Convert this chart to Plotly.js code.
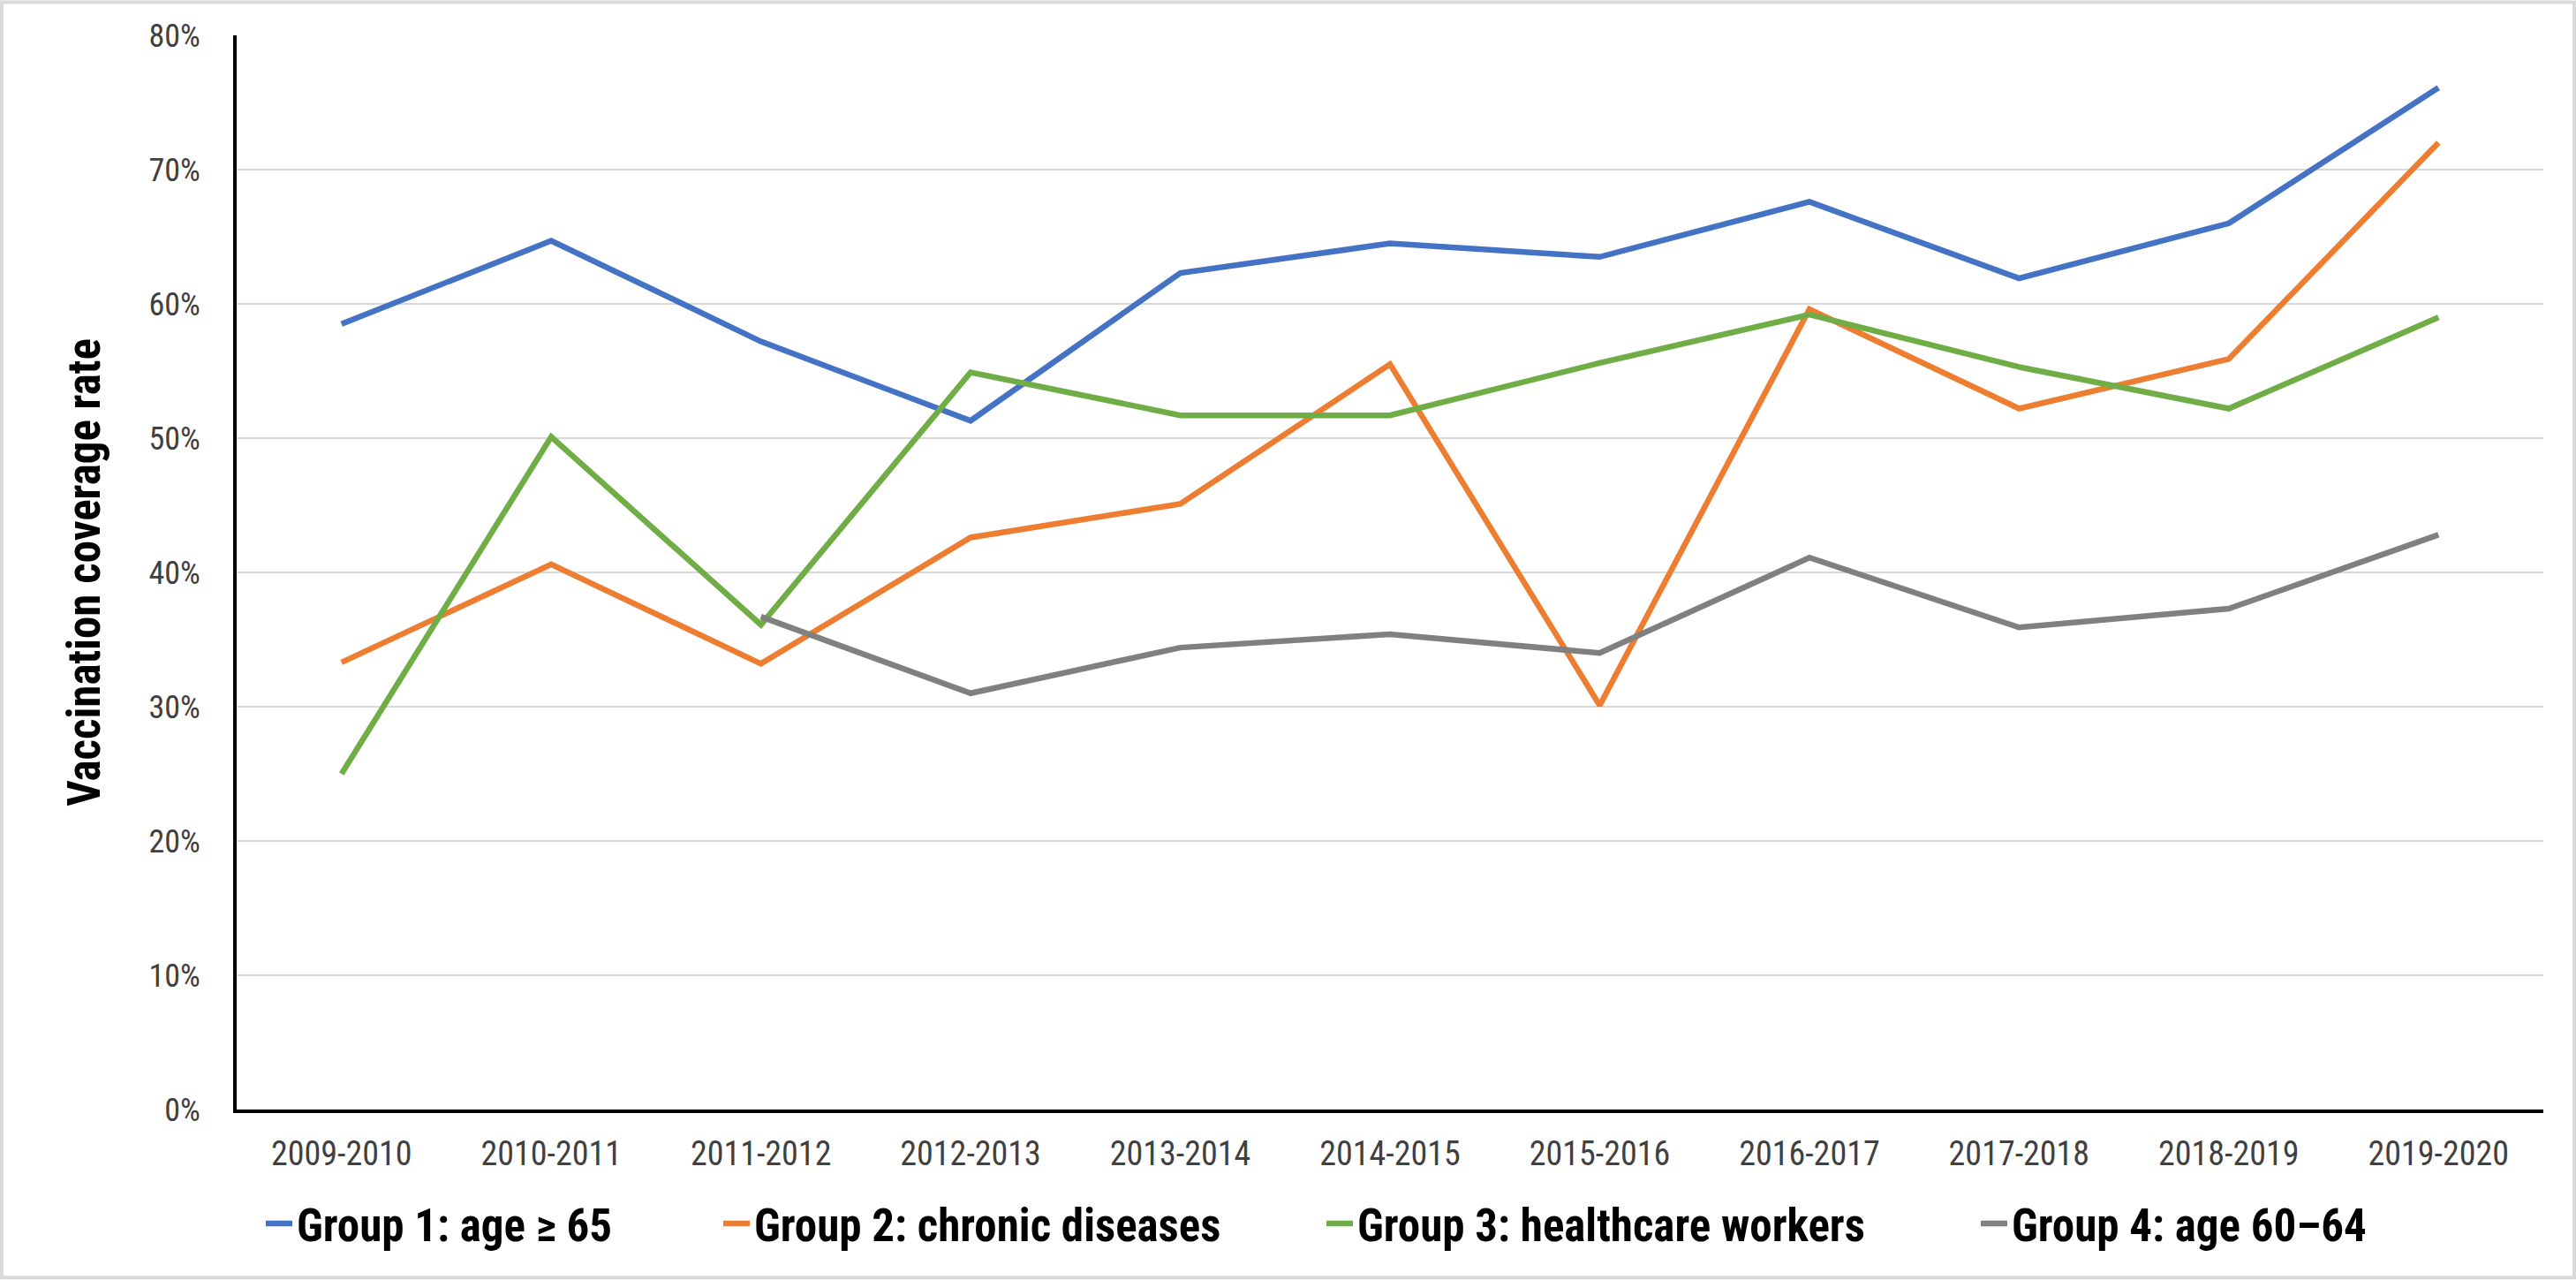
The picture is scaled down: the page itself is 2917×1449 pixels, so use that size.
<!DOCTYPE html>
<html>
<head>
<meta charset="utf-8">
<script src="https://cdn.plot.ly/plotly-3.0.1.min.js"></script>
<style>
  html, body { margin: 0; padding: 0; background: #ffffff; }
  #chart { width: 2917px; height: 1449px; }
</style>
</head>
<body>
<div id="chart"></div>
<script>
// ---- Data ----
const seasons = ["2009-2010", "2010-2011", "2011-2012", "2012-2013", "2013-2014",
                 "2014-2015", "2015-2016", "2016-2017", "2017-2018", "2018-2019", "2019-2020"];

const group1Age65 = [58.5, 64.7, 57.2, 51.3, 62.3, 64.5, 63.5, 67.6, 61.9, 66.0, 76.1];
const group2Chronic = [33.3, 40.6, 33.2, 42.6, 45.1, 55.5, 30.1, 59.6, 52.2, 55.9, 72.0];
const group3Healthcare = [25.0, 50.1, 36.1, 54.9, 51.7, 51.7, 55.6, 59.2, 55.3, 52.2, 59.0];
const group4Age6064 = [null, null, 36.7, 31.0, 34.4, 35.4, 34.0, 41.1, 35.9, 37.3, 42.8];

const seriesNames = ["Group 1: age \u2265 65", "Group 2: chronic diseases",
                     "Group 3: healthcare workers", "Group 4: age 60\u201364"];
const seriesColors = ["#4472C4", "#ED7D31", "#70AD47", "#808080"];

const yTickValues = [0, 10, 20, 30, 40, 50, 60, 70, 80];
const yTitle = "Vaccination coverage rate";

// ---- Layout constants ----
const W = 2917, H = 1449;
const mL = 268, mR = 37, mT = 39.5, mB = 192.5;
const plotW = W - mL - mR, plotH = H - mT - mB;
const FONT = "'Liberation Sans Narrow', 'Arial Narrow', 'Roboto Condensed', 'Liberation Sans', sans-serif";

// legend entry left edges (pixels) so that each entry sits where the reference puts it
const legendLeftPx = [296, 814, 1497, 2238];
const legendIds = ["legend", "legend2", "legend3", "legend4"];

const allSeries = [group1Age65, group2Chronic, group3Healthcare, group4Age6064];
const traces = allSeries.map((vals, i) => ({
  type: "scatter",
  mode: "lines",
  x: seasons,
  y: vals,
  name: seriesNames[i],
  legend: legendIds[i],
  line: { color: seriesColors[i], width: 6.5 },
  connectgaps: false,
  hoverinfo: "x+y+name"
}));

const layout = {
  width: W,
  height: H,
  margin: { l: mL, r: mR, t: mT, b: mB, pad: 0 },
  paper_bgcolor: "#ffffff",
  plot_bgcolor: "#ffffff",
  showlegend: true,
  font: { family: FONT, color: "#595959" },
  xaxis: {
    type: "category",
    range: [-0.5, 10.5],
    showgrid: false,
    zeroline: false,
    showline: true,
    linecolor: "#000000",
    linewidth: 4,
    ticks: "",
    ticklabelstandoff: 13,
    tickfont: { family: FONT, size: 38, color: "#404040" },
    fixedrange: true,
    automargin: false
  },
  yaxis: {
    range: [0, 80],
    tickvals: yTickValues,
    ticktext: yTickValues.map(v => v + "%"),
    showgrid: true,
    gridcolor: "#D9D9D9",
    gridwidth: 2,
    zeroline: false,
    showline: true,
    linecolor: "#000000",
    linewidth: 4,
    ticks: "",
    ticklabelstandoff: 30,
    tickfont: { family: FONT, size: 36, color: "#404040" },
    title: {
      text: yTitle,
      font: { family: FONT, size: 51, color: "#000000", weight: "bold" },
      standoff: 40
    },
    fixedrange: true,
    automargin: false
  },
  shapes: [
    {
      type: "rect",
      xref: "paper", yref: "paper",
      x0: (2 - mL) / plotW, x1: (W - 2 - mL) / plotW,
      y0: (mT + plotH - (H - 2)) / plotH, y1: (mT + plotH - 2) / plotH,
      line: { color: "#D9D9D9", width: 4 },
      fillcolor: "rgba(0,0,0,0)",
      layer: "below"
    }
  ]
};

legendIds.forEach((id, i) => {
  layout[id] = {
    orientation: "h",
    x: (legendLeftPx[i] - mL) / plotW,
    xanchor: "left",
    y: (mT + plotH - 1386) / plotH,
    yanchor: "middle",
    font: { family: FONT, size: 51, color: "#000000", weight: "bold" },
    bgcolor: "rgba(0,0,0,0)",
    borderwidth: 0,
    itemwidth: 30
  };
});

Plotly.newPlot("chart", traces, layout, { displayModeBar: false, responsive: false });
</script>
</body>
</html>
